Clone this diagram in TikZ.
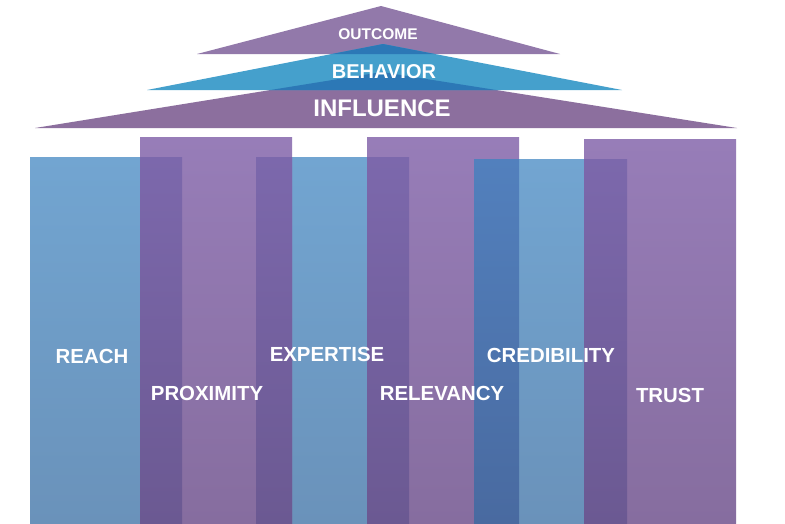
\documentclass[tikz,border=0pt]{standalone}
\usepackage{fontspec}
\setmainfont{Liberation Sans}
\definecolor{outcomecol}{HTML}{9279AA}
\definecolor{behaviorcol}{HTML}{45A0CC}
\definecolor{influencecol}{HTML}{8C6F9E}
\definecolor{darkblue}{HTML}{2C78B6}
\definecolor{bluetop}{HTML}{72A5D1}
\definecolor{bluebot}{HTML}{6A92BA}
\definecolor{purptop}{HTML}{977DB8}
\definecolor{purpbot}{HTML}{866D9F}
\definecolor{dpurptop}{HTML}{7C68AC}
\definecolor{dpurpbot}{HTML}{6B5992}
\definecolor{dbluetop}{HTML}{5280BD}
\definecolor{dbluebot}{HTML}{496AA0}
\tikzset{
  bluepillar/.style={top color=bluetop,bottom color=bluebot},
  purppillar/.style={top color=purptop,bottom color=purpbot},
  dpurp/.style={top color=dpurptop,bottom color=dpurpbot},
  dblue/.style={top color=dbluetop,bottom color=dbluebot},
  lbl/.style={text=white,font=\fontsize{20.4}{24}\selectfont\bfseries,inner sep=0pt},
}
\begin{document}
\begin{tikzpicture}[x=1pt,y=-1pt]
\useasboundingbox (0,0) rectangle (785,523);
\fill[white] (0,0) rectangle (785,523);
% triangles
\fill[outcomecol] (197,54) -- (381,6) -- (560,54) -- cycle;
\fill[influencecol] (35,128) -- (382,72) -- (737,128) -- cycle;
\fill[behaviorcol] (147,90) -- (383,44) -- (622,90) -- cycle;
\begin{scope}
  \clip (147,90) -- (383,44) -- (622,90) -- cycle;
  \fill[darkblue] (197,54) -- (381,6) -- (560,54) -- cycle;
  \fill[darkblue] (35,128) -- (382,72) -- (737,128) -- cycle;
\end{scope}
\node[text=white,font=\fontsize{15.5}{18}\selectfont\bfseries,inner sep=0pt] (outcome) at (378,34) {OUTCOME};
\node[text=white,font=\fontsize{20}{24}\selectfont\bfseries,inner sep=0pt] (behavior) at (384,72) {BEHAVIOR};
\node[text=white,font=\fontsize{24}{28}\selectfont\bfseries,inner sep=0pt] (influence) at (382,108) {INFLUENCE};
% blue pillars
\shade[bluepillar] (30,157) rectangle (182,523);
\shade[bluepillar] (256,157) rectangle (409,523);
% purple pillars
\shade[purppillar] (140,137) rectangle (292,523);
\shade[purppillar] (367,137) rectangle (519,523);
% credibility on top of relevancy
\shade[bluepillar] (474,159) rectangle (627,523);
\shade[purppillar] (584,139) rectangle (736,523);
% overlaps
\shade[dpurp] (140,157) rectangle (182,523);
\shade[dpurp] (256,157) rectangle (292,523);
\shade[dpurp] (367,157) rectangle (409,523);
\shade[dblue] (474,159) rectangle (519,523);
\shade[dpurp] (584,159) rectangle (627,523);
% labels
\node[lbl] (reach) at (92,356) {REACH};
\node[lbl] (proximity) at (207,393) {PROXIMITY};
\node[lbl] (expertise) at (327,354) {EXPERTISE};
\node[lbl] (relevancy) at (442,393) {RELEVANCY};
\node[lbl] (credibility) at (551,355) {CREDIBILITY};
\node[lbl] (trust) at (670,395) {TRUST};
\end{tikzpicture}
\end{document}
